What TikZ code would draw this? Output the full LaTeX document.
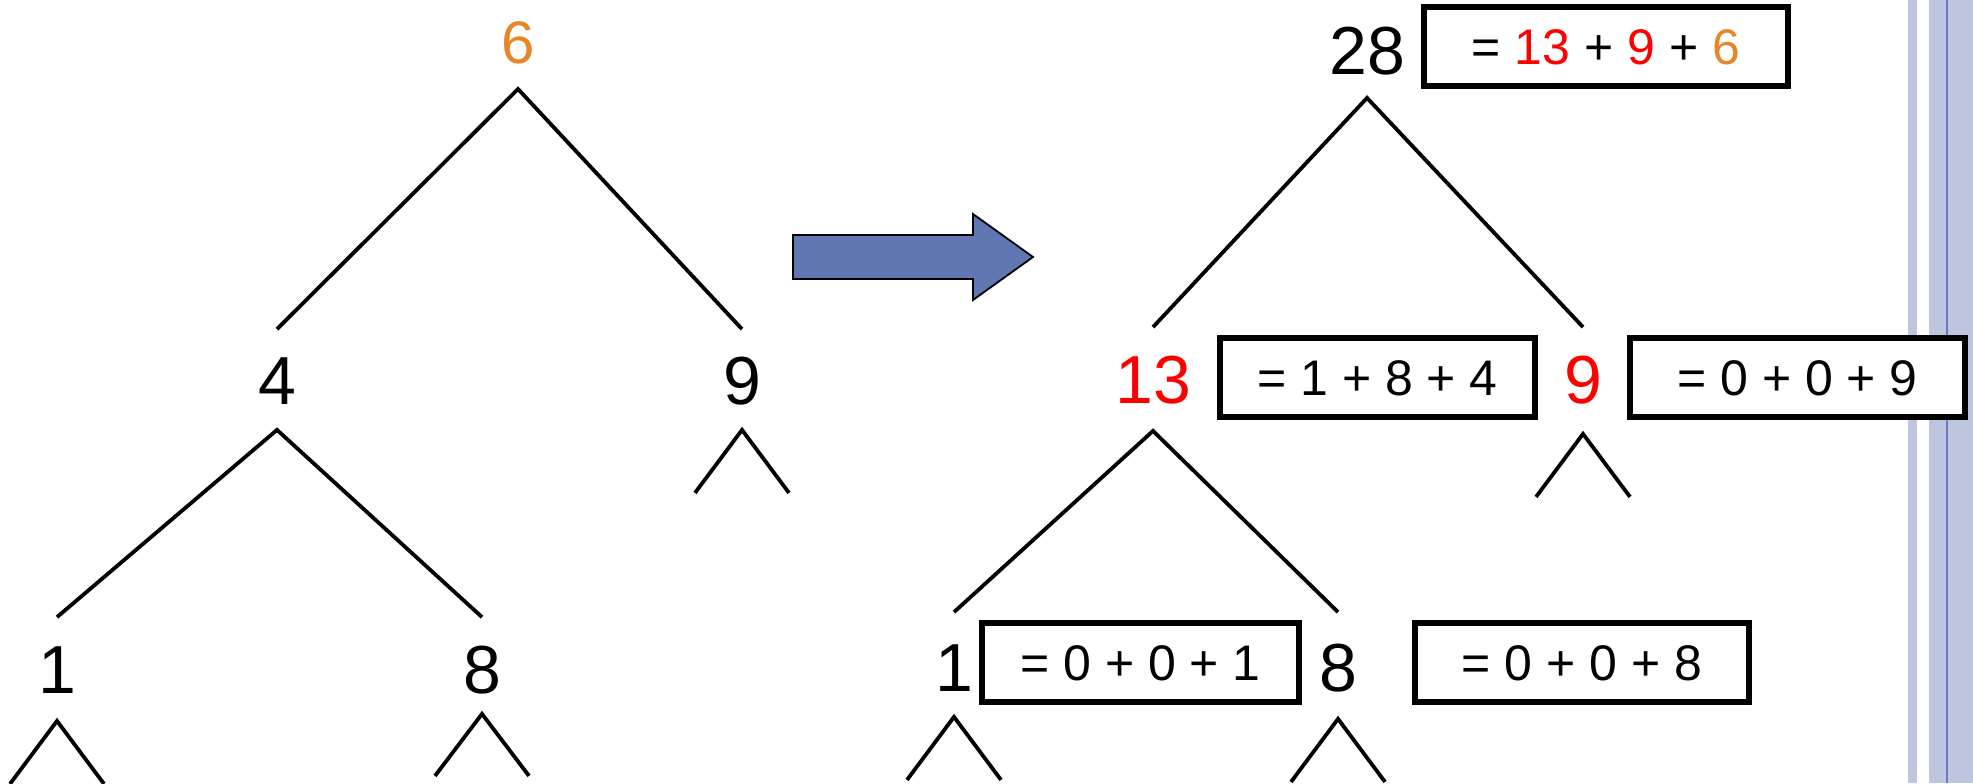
\documentclass[tikz,border=0pt]{standalone}
\usepackage{fontspec}
\setmainfont{Liberation Sans}
\usetikzlibrary{calc}

\definecolor{sixorange}{RGB}{230,134,41}
\definecolor{arrowblue}{RGB}{97,119,180}
\definecolor{stripeblue}{RGB}{190,197,222}
\definecolor{stripeline}{RGB}{105,125,190}

\begin{document}
\begin{tikzpicture}[
  x=0.5pt, y=-0.5pt,
  lbl/.style={inner sep=0pt, font=\fontsize{34}{34}\selectfont, text height=24.5pt, text depth=0pt},
  rootlbl/.style={lbl, font=\fontsize{30}{30}\selectfont, text height=21.6pt},
  edge/.style={line width=1.9pt, draw=black},
  sumbox/.style={draw=black, line width=3pt, fill=white, inner sep=0pt,
                 minimum height=39.5pt, font=\fontsize{25}{25}\selectfont,
                 text height=18pt, text depth=0pt},
  hot/.style={text=red}
]
\useasboundingbox (0,0) rectangle (1973,783);

% ---------------- slide border ----------------
\fill[stripeblue] (1908,0) rectangle (1917,783);
\fill[stripeblue] (1929,0) rectangle (1973,783);
\draw[stripeline, line width=1pt] (1947,0) -- (1947,783);

% ---------------- tree before ----------------
\node[rootlbl, text=sixorange] (l6) at (518,42) {6};
\node[lbl] (l4) at (277,380) {4};
\node[lbl] (l9) at (742,380) {9};
\node[lbl] (l1) at (57,669) {1};
\node[lbl] (l8) at (482,669) {8};

\draw[edge] ($(l4.north)+(0,-26)$) -- ($(l6.south)+(0,25)$) -- ($(l9.north)+(0,-26)$);
\draw[edge] ($(l1.north)+(0,-27)$) -- ($(l4.south)+(0,25)$) -- ($(l8.north)+(0,-27)$);
\draw[edge] ($(l9.south)+(-47,88)$) -- ($(l9.south)+(0,25)$) -- ($(l9.south)+(47,88)$);
\draw[edge] ($(l1.south)+(-47,90)$) -- ($(l1.south)+(0,27)$) -- ($(l1.south)+(47,90)$);
\draw[edge] ($(l8.south)+(-47,82)$) -- ($(l8.south)+(0,20)$) -- ($(l8.south)+(47,82)$);

% ---------------- block arrow ----------------
\draw[fill=arrowblue, line width=0.9pt]
  (793,235) -- (973,235) -- (973,214) -- (1033,257) -- (973,300) -- (973,279) -- (793,279) -- cycle;

% ---------------- tree after ----------------
\node[lbl] (r28) at (1367,50) {28};
\node[lbl, hot] (r13) at (1153,379) {13};
\node[lbl, hot] (r9) at (1583,379) {9};
\node[lbl] (r1) at (954,667) {1};
\node[lbl] (r8) at (1338,667) {8};

\node[sumbox, minimum width=182pt] (s28) at (1606,46.5)
  {= \textcolor{red}{13} + \textcolor{red}{9} + \textcolor{sixorange}{6}};
\node[sumbox, minimum width=157.5pt] (s13) at (1377.5,377.5) {= 1 + 8 + 4};
\node[sumbox, minimum width=167.5pt] (s9) at (1797.5,377.5) {= 0 + 0 + 9};
\node[sumbox, minimum width=158.5pt] (s1) at (1140.5,662.5) {= 0 + 0 + 1};
\node[sumbox, minimum width=167pt] (s8) at (1582,662.5) {= 0 + 0 + 8};

\draw[edge] ($(r13.north)+(0,-27)$) -- ($(r28.south)+(0,23)$) -- ($(r9.north)+(0,-27)$);
\draw[edge] ($(r1.north)+(0,-30)$) -- ($(r13.south)+(0,27)$) -- ($(r8.north)+(0,-30)$);
\draw[edge] ($(r9.south)+(-47,93)$) -- ($(r9.south)+(0,30)$) -- ($(r9.south)+(47,93)$);
\draw[edge] ($(r1.south)+(-47,88)$) -- ($(r1.south)+(0,25)$) -- ($(r1.south)+(47,88)$);
\draw[edge] ($(r8.south)+(-47,90)$) -- ($(r8.south)+(0,27)$) -- ($(r8.south)+(47,90)$);

\end{tikzpicture}
\end{document}
